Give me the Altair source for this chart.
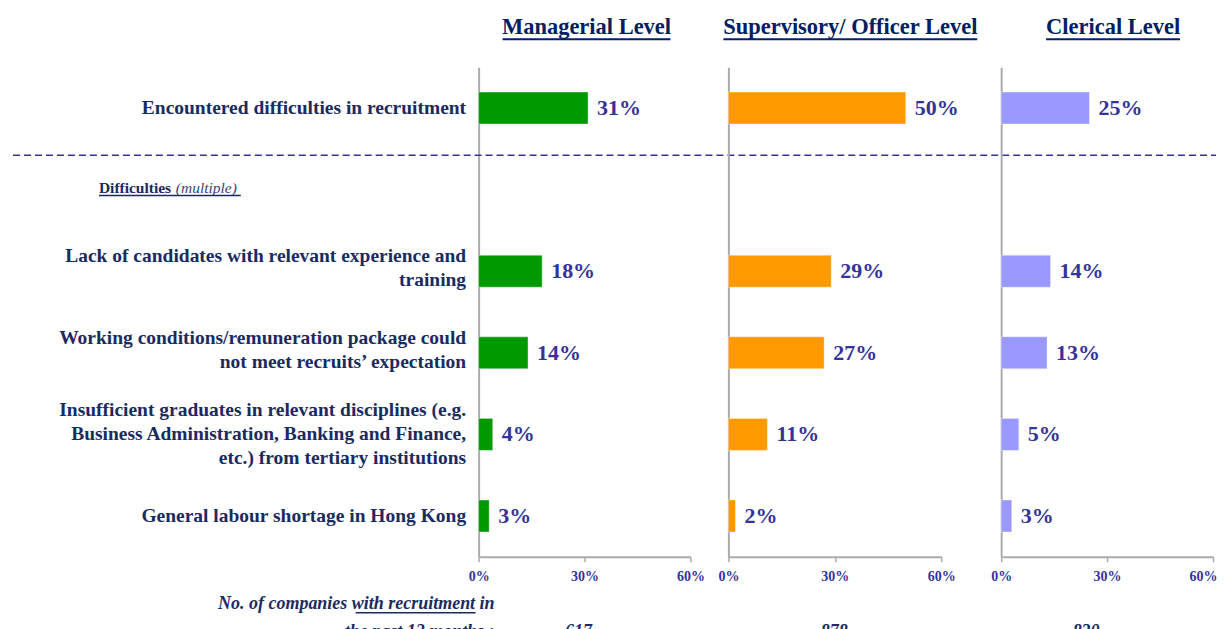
import altair as alt
import pandas as pd

# ---------------- data ----------------
categories = [
    "Encountered difficulties in recruitment",
    " ",
    "Lack of candidates with relevant experience and|training",
    "Working conditions/remuneration package could|not meet recruits\u2019 expectation",
    "Insufficient graduates in relevant disciplines (e.g.|Business Administration, Banking and Finance,|etc.) from tertiary institutions",
    "General labour shortage in Hong Kong",
]
value_cats = [c for c in categories if c.strip()]
levels = ["Managerial Level", "Supervisory/ Officer Level", "Clerical Level"]
managerial = [31, 18, 14, 4, 3]
supervisory = [50, 29, 27, 11, 2]
clerical = [25, 14, 13, 5, 3]
companies = [617, 878, 830]
tick_values = [0, 30, 60]
colors = ["#009900", "#FF9900", "#9999FF"]

series = [managerial, supervisory, clerical]

FONT = "Liberation Serif"
NAVY = "#1A2B5F"
TITLE_NAVY = "#002060"
VAL = "#333399"
GRAY = "#ABABAB"

W = [212, 235, 212]          # view widths
RANGE = [212, 213, 212]      # scale range (panel 2 padded on right)
H = 490

NLINES = "length(split(datum.value, '|'))"


def panel(i):
    level = levels[i]
    df = pd.DataFrame({
        "cat": value_cats,
        "value": series[i],
    })
    df["label"] = df["value"].astype(str) + "%"

    yaxis_kw = dict(title=None, ticks=False, domainColor=GRAY, domainWidth=2, grid=False)
    if i == 0:
        yaxis = alt.Axis(labelExpr="split(datum.value, '|')", labelFont=FONT,
                         labelFontSize=19.5, labelFontWeight="bold", labelColor=NAVY,
                         labelPadding=13, labelLineHeight=24, labelLimit=600,
                         labelOffset={"condition": [
                             {"test": NLINES + " == 2", "value": -15},
                             {"test": NLINES + " == 3", "value": -24}],
                             "value": 0},
                         **yaxis_kw)
    else:
        yaxis = alt.Axis(labels=False, **yaxis_kw)

    xaxis_extra = {}
    if i == 2:
        xaxis_extra = dict(
            labelAlign={"condition": {"test": "datum.value == 60", "value": "right"},
                        "value": "center"},
            labelOffset={"condition": {"test": "datum.value == 60", "value": 4},
                         "value": 0})

    y = alt.Y("cat:N", sort=categories,
              scale=alt.Scale(domain=categories, paddingInner=0.608, paddingOuter=0.304),
              axis=yaxis)
    x = alt.X("value:Q",
              scale=alt.Scale(domain=[0, 60], range=[0, RANGE[i]]),
              axis=alt.Axis(values=tick_values, labelExpr="datum.value + '%'", grid=False,
                            title=None, domainColor=GRAY, domainWidth=2, tickColor=GRAY,
                            tickWidth=1.5, tickSize=5, labelPadding=8, labelFont=FONT,
                            labelFontSize=14, labelFontWeight="bold", labelColor=VAL,
                            labelFlush=False, labelOverlap=False, **xaxis_extra))

    base = alt.Chart(df)
    bars = base.mark_bar(color=colors[i], stroke="white", strokeOpacity=0.4,
                         strokeWidth=1).encode(x=x, y=y)
    texts = base.mark_text(align="left", baseline="middle", dx=9, font=FONT,
                           fontSize=22, fontWeight="bold", color=VAL).encode(
        x="value:Q", y=alt.Y("cat:N", sort=categories), text="label:N")

    # panel title with underline
    title_pos = [(108, 24, 192), (122, -5, 249), (112, 45, 179)][i]
    tdf = pd.DataFrame({"t": [level], "n": [str(companies[i])]})
    tchart = alt.Chart(tdf)
    title = tchart.mark_text(align="center", baseline="alphabetic", font=FONT,
                             fontSize=22.5, fontWeight="bold", color=TITLE_NAVY).encode(
        text="t:N", x=alt.value(title_pos[0]), y=alt.value(-33))
    uline = tchart.mark_rule(color=TITLE_NAVY, strokeWidth=2).encode(
        x=alt.value(title_pos[1]), x2=alt.value(title_pos[2]), y=alt.value(-28))

    num_x = [100, 106, 85][i]
    num = tchart.mark_text(align="center", baseline="alphabetic", font=FONT,
                           fontSize=18, fontWeight="bold", fontStyle="italic",
                           color=NAVY).encode(
        text="n:N", x=alt.value(num_x), y=alt.value(570))

    layers = [bars, texts, title, uline, num]

    if i == 0:
        anchor = tchart.mark_rule(color="white", strokeWidth=1).encode(
            x=alt.value(-470), x2=alt.value(-469), y=alt.value(-58))
        dash = tchart.mark_rule(color="#333399", strokeWidth=1.5,
                                strokeDash=[7, 4]).encode(
            x=alt.value(-466), x2=alt.value(738), y=alt.value(88))
        hdr = pd.DataFrame({"a": ["Difficulties"], "b": ["(multiple)"],
                            "l1": ["No. of companies with recruitment in"],
                            "l2": ["the past 12 months :"]})
        hc = alt.Chart(hdr)
        h1 = hc.mark_text(align="left", baseline="alphabetic", font=FONT, fontSize=15.5,
                          fontWeight="bold", color=NAVY).encode(
            text="a:N", x=alt.value(-380), y=alt.value(126))
        h2 = hc.mark_text(align="left", baseline="alphabetic", font=FONT, fontSize=15.5,
                          fontStyle="italic", color="#3A3F7A").encode(
            text="b:N", x=alt.value(-303), y=alt.value(126))
        hu = hc.mark_rule(color=NAVY, strokeWidth=1.5).encode(
            x=alt.value(-380), x2=alt.value(-238), y=alt.value(128.5))
        b1 = hc.mark_text(align="right", baseline="alphabetic", font=FONT, fontSize=18,
                          fontWeight="bold", fontStyle="italic", color=NAVY).encode(
            text="l1:N", x=alt.value(16), y=alt.value(542))
        b2 = hc.mark_text(align="right", baseline="alphabetic", font=FONT, fontSize=18,
                          fontWeight="bold", fontStyle="italic", color=NAVY).encode(
            text="l2:N", x=alt.value(16), y=alt.value(570))
        bu = hc.mark_rule(color=NAVY, strokeWidth=1.5).encode(
            x=alt.value(-123), x2=alt.value(-3), y=alt.value(546))
        layers = [anchor, dash, h1, h2, hu, b1, b2, bu] + layers

    return alt.layer(*layers).properties(width=W[i], height=H)


chart = alt.hconcat(panel(0), panel(1), panel(2), spacing=38, bounds="flush").properties(
    padding=0
).configure_view(stroke=None)

chart.save("out.html", embed_options={"renderer": "svg", "actions": False})
